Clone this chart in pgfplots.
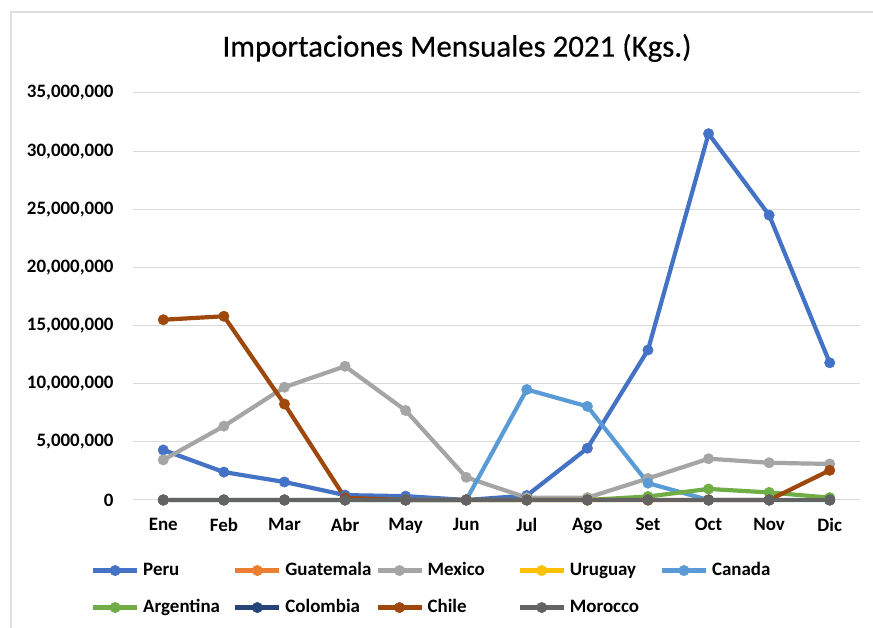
\documentclass[border=0pt]{standalone}
\usepackage{pgfplots}
\pgfplotsset{compat=1.18}
\usepackage{fontspec}
\setmainfont{Carlito}
\definecolor{cPeru}{HTML}{4472C4}
\definecolor{cGuat}{HTML}{ED7D31}
\definecolor{cMex}{HTML}{A5A5A5}
\definecolor{cUru}{HTML}{FFC000}
\definecolor{cCan}{HTML}{5B9BD5}
\definecolor{cArg}{HTML}{70AD47}
\definecolor{cCol}{HTML}{264478}
\definecolor{cChi}{HTML}{9E480E}
\definecolor{cMor}{HTML}{636363}

\begin{document}
\begin{tikzpicture}[x=1bp,y=1bp]
\path[use as bounding box] (0,0) rectangle (873,628);
\draw[black!12, line width=1.2bp] (11,0) -- (11,616) -- (873,616);
\node[font=\fontsize{31}{35}\selectfont\addfontfeatures{FakeBold=0.4}] at (457,580) {Importaciones Mensuales 2021 (Kgs.)};
\begin{axis}[
  at={(133bp,128bp)}, anchor=south west,
  scale only axis, width=727bp, height=407bp,
  xmin=-0.5, xmax=11.5, ymin=0, ymax=35000000,
  xtick={0,...,11},
  xticklabels={Ene,Feb,Mar,Abr,May,Jun,Jul,Ago,Set,Oct,Nov,Dic},
  ytick={0,5000000,10000000,15000000,20000000,25000000,30000000,35000000},
  scaled y ticks=false,
  /pgf/number format/.cd, fixed, precision=0, 1000 sep={,}, assume math mode=true,
  /pgfplots/.cd,
  axis line style={draw=none}, major tick length=0,
  ymajorgrids, grid style={color=black!15, line width=1bp},
  tick label style={font=\bfseries\fontsize{19}{21}\selectfont},
  yticklabel style={xshift=-16bp},
  xticklabel style={yshift=-15bp},
  clip=false,
  every axis plot/.append style={line width=4.2bp, mark=*, mark size=5.2bp, line join=round, mark options={solid, line width=0.5bp}},
  legend columns=5,
  legend style={at={(-0.058,-0.152)}, anchor=north west, draw=none, fill=none,
    inner sep=0pt, row sep=20bp,
    nodes={inner sep=0pt, text height=13bp, text depth=4bp, font=\bfseries\fontsize{19}{21}\selectfont},
    /tikz/every odd column/.append style={column sep=4bp}},
  legend cell align=left,
  legend image code/.code={\draw[mark repeat=2,mark phase=2] plot coordinates {(0bp,0bp)(22bp,0bp)(44bp,0bp)};},
]
% Peru
\addplot[color=cPeru] coordinates {(0,4300000)(1,2400000)(2,1550000)(3,420000)(4,330000)(5,0)(6,380000)(7,4450000)(8,12900000)(9,31500000)(10,24500000)(11,11800000)};
% Guatemala
\addplot[color=cGuat] coordinates {(0,0)(1,0)(2,0)(3,0)(4,0)(5,0)(6,0)(7,0)(8,0)(9,0)(10,0)(11,0)};
% Mexico
\addplot[color=cMex] coordinates {(0,3450000)(1,6350000)(2,9700000)(3,11500000)(4,7700000)(5,1950000)(6,200000)(7,200000)(8,1850000)(9,3550000)(10,3200000)(11,3100000)};
% Uruguay
\addplot[color=cUru] coordinates {(0,0)(1,0)(2,0)(3,0)(4,0)(5,0)(6,0)(7,0)(8,0)(9,0)(10,0)(11,0)};
% Canada
\addplot[color=cCan] coordinates {(0,0)(1,0)(2,0)(3,0)(4,0)(5,0)(6,9500000)(7,8050000)(8,1450000)(9,0)(10,0)(11,0)};
% Argentina
\addplot[color=cArg] coordinates {(0,0)(1,0)(2,0)(3,0)(4,0)(5,0)(6,0)(7,0)(8,300000)(9,950000)(10,650000)(11,200000)};
% Colombia
\addplot[color=cCol] coordinates {(0,0)(1,0)(2,0)(3,0)(4,0)(5,0)(6,0)(7,0)(8,0)(9,0)(10,0)(11,0)};
% Chile
\addplot[color=cChi] coordinates {(0,15500000)(1,15800000)(2,8250000)(3,180000)(4,0)(5,0)(6,0)(7,0)(8,0)(9,0)(10,0)(11,2550000)};
% Morocco
\addplot[color=cMor] coordinates {(0,0)(1,0)(2,0)(3,0)(4,0)(5,0)(6,0)(7,0)(8,0)(9,0)(10,0)(11,0)};
\legend{\makebox[90bp][l]{Peru},\makebox[90bp][l]{Guatemala},\makebox[90bp][l]{Mexico},\makebox[90bp][l]{Uruguay},\makebox[90bp][l]{Canada},
  \makebox[90bp][l]{Argentina},\makebox[90bp][l]{Colombia},\makebox[90bp][l]{Chile},\makebox[90bp][l]{Morocco}}
\end{axis}
\end{tikzpicture}
\end{document}
